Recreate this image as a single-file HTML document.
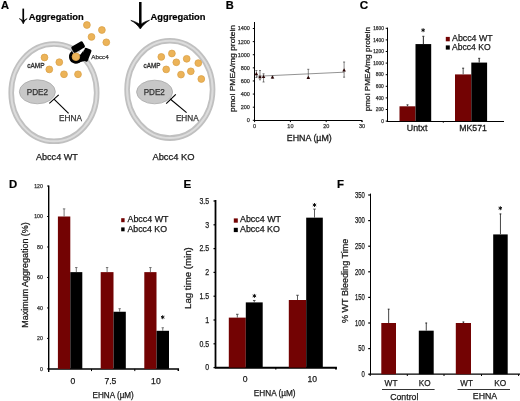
<!DOCTYPE html>
<html><head><meta charset="utf-8"><style>
html,body{margin:0;padding:0;background:#fff;}
body{width:520px;height:401px;overflow:hidden;}
svg{display:block;font-family:"Liberation Sans", sans-serif;will-change:transform;}
</style></head><body>
<svg width="520" height="401" viewBox="0 0 520 401">
<rect width="520" height="401" fill="#fff"/>
<text x="0.90" y="9.40" font-size="11.6" font-weight="bold" fill="#000" text-anchor="start" textLength="8.00" lengthAdjust="spacingAndGlyphs" stroke="#000" stroke-width="0.2">A</text>
<text x="225.80" y="9.30" font-size="11.6" font-weight="bold" fill="#000" text-anchor="start" textLength="8.00" lengthAdjust="spacingAndGlyphs" stroke="#000" stroke-width="0.2">B</text>
<text x="359.80" y="9.20" font-size="11.8" font-weight="bold" fill="#000" text-anchor="start" textLength="8.40" lengthAdjust="spacingAndGlyphs" stroke="#000" stroke-width="0.2">C</text>
<text x="8.90" y="187.60" font-size="11.8" font-weight="bold" fill="#000" text-anchor="start" textLength="8.20" lengthAdjust="spacingAndGlyphs" stroke="#000" stroke-width="0.2">D</text>
<text x="183.60" y="187.60" font-size="11.8" font-weight="bold" fill="#000" text-anchor="start" textLength="7.80" lengthAdjust="spacingAndGlyphs" stroke="#000" stroke-width="0.2">E</text>
<text x="337.10" y="187.60" font-size="11.8" font-weight="bold" fill="#000" text-anchor="start" textLength="7.00" lengthAdjust="spacingAndGlyphs" stroke="#000" stroke-width="0.2">F</text>
<ellipse cx="53.95" cy="92.65" rx="42.75" ry="48.65" fill="none" stroke="#c0c0c0" stroke-width="5.6"/>
<ellipse cx="53.95" cy="92.65" rx="42.75" ry="48.65" fill="none" stroke="#dcdcdc" stroke-width="2.0"/>
<ellipse cx="169.85" cy="89.45" rx="42.75" ry="48.65" fill="none" stroke="#c0c0c0" stroke-width="5.6"/>
<ellipse cx="169.85" cy="89.45" rx="42.75" ry="48.65" fill="none" stroke="#dcdcdc" stroke-width="2.0"/>
<line x1="23.25" y1="8.60" x2="23.25" y2="21.50" stroke="#000" stroke-width="1.7"/>
<path d="M19.3,18.6 C20.8,19.6 22.2,21.2 23.25,23.9 C24.3,21.2 25.7,19.6 27.2,18.6 C25.8,19.2 24.4,20.0 23.25,21.4 C22.1,20.0 20.7,19.2 19.3,18.6 Z" fill="#000" stroke="#000" stroke-width="0.6" stroke-linejoin="round"/>
<line x1="140.30" y1="2.00" x2="140.30" y2="25.00" stroke="#000" stroke-width="2.5"/>
<path d="M130.8,20.4 C134.5,22.2 137.6,25.0 140.3,29.0 C143.0,25.0 146.1,22.2 149.6,20.2 C146.2,21.0 143.2,22.4 140.3,24.6 C137.4,22.6 134.4,21.2 130.8,20.4 Z" fill="#000" stroke="#000" stroke-width="0.6" stroke-linejoin="round"/>
<text x="28.70" y="19.60" font-size="9.5" font-weight="bold" fill="#000" text-anchor="start" textLength="55.00" lengthAdjust="spacingAndGlyphs" stroke="#000" stroke-width="0.2">Aggregation</text>
<text x="150.50" y="19.70" font-size="9.5" font-weight="bold" fill="#000" text-anchor="start" textLength="55.00" lengthAdjust="spacingAndGlyphs" stroke="#000" stroke-width="0.2">Aggregation</text>
<circle cx="44.50" cy="57.50" r="3.40" fill="#ecb358" stroke="#d9a047" stroke-width="0.75"/>
<circle cx="59.30" cy="62.20" r="3.40" fill="#ecb358" stroke="#d9a047" stroke-width="0.75"/>
<circle cx="49.30" cy="69.40" r="3.40" fill="#ecb358" stroke="#d9a047" stroke-width="0.75"/>
<circle cx="64.00" cy="74.30" r="3.40" fill="#ecb358" stroke="#d9a047" stroke-width="0.75"/>
<circle cx="78.00" cy="74.30" r="3.40" fill="#ecb358" stroke="#d9a047" stroke-width="0.75"/>
<circle cx="86.90" cy="25.00" r="3.40" fill="#ecb358" stroke="#d9a047" stroke-width="0.75"/>
<circle cx="101.90" cy="30.00" r="3.40" fill="#ecb358" stroke="#d9a047" stroke-width="0.75"/>
<circle cx="91.50" cy="36.90" r="3.40" fill="#ecb358" stroke="#d9a047" stroke-width="0.75"/>
<circle cx="106.30" cy="42.30" r="3.40" fill="#ecb358" stroke="#d9a047" stroke-width="0.75"/>
<circle cx="161.30" cy="56.90" r="3.40" fill="#ecb358" stroke="#d9a047" stroke-width="0.75"/>
<circle cx="171.90" cy="53.50" r="3.40" fill="#ecb358" stroke="#d9a047" stroke-width="0.75"/>
<circle cx="176.30" cy="62.30" r="3.40" fill="#ecb358" stroke="#d9a047" stroke-width="0.75"/>
<circle cx="186.70" cy="58.80" r="3.40" fill="#ecb358" stroke="#d9a047" stroke-width="0.75"/>
<circle cx="198.30" cy="63.10" r="3.40" fill="#ecb358" stroke="#d9a047" stroke-width="0.75"/>
<circle cx="166.20" cy="69.40" r="3.40" fill="#ecb358" stroke="#d9a047" stroke-width="0.75"/>
<circle cx="181.00" cy="74.60" r="3.40" fill="#ecb358" stroke="#d9a047" stroke-width="0.75"/>
<circle cx="190.80" cy="71.30" r="3.40" fill="#ecb358" stroke="#d9a047" stroke-width="0.75"/>
<circle cx="201.30" cy="79.00" r="3.40" fill="#ecb358" stroke="#d9a047" stroke-width="0.75"/>
<g fill="#000"><rect x="71.6" y="43.6" width="13.0" height="7.0" rx="1.5" transform="rotate(-30 78.1 47.1)"/><rect x="82.6" y="48.3" width="7.2" height="13.0" rx="1.5" transform="rotate(21 86.2 54.8)"/><path d="M79.2,55.0 L83.4,49.4 L84.4,61.0 L79.0,62.6 Z"/></g>
<path d="M72.9,52.5 A5.2,5.2 0 1 0 81.1,56.8" fill="none" stroke="#000" stroke-width="3.4"/>
<path d="M78.6,53.6 L83.0,48.3 L84.5,48.9 L80.3,54.8 Z" fill="#fff"/>
<circle cx="75.90" cy="56.80" r="3.80" fill="#ecb358" stroke="#d9a047" stroke-width="0.8"/>
<text x="91.20" y="59.40" font-size="6.2" fill="#333" text-anchor="start" textLength="17.60" lengthAdjust="spacingAndGlyphs" stroke="#333" stroke-width="0.25">Abcc4</text>
<text x="27.30" y="68.00" font-size="7.0" fill="#333" text-anchor="start" textLength="17.30" lengthAdjust="spacingAndGlyphs" stroke="#333" stroke-width="0.35">cAMP</text>
<text x="143.50" y="67.80" font-size="7.0" fill="#333" text-anchor="start" textLength="16.90" lengthAdjust="spacingAndGlyphs" stroke="#333" stroke-width="0.35">cAMP</text>
<ellipse cx="37.35" cy="91.80" rx="18.00" ry="12.00" fill="#c8c8c8" stroke="#a8a8a8" stroke-width="0.8"/>
<ellipse cx="154.60" cy="92.00" rx="18.00" ry="11.80" fill="#c8c8c8" stroke="#a8a8a8" stroke-width="0.8"/>
<text x="26.70" y="95.00" font-size="8.4" fill="#333" text-anchor="start" textLength="21.40" lengthAdjust="spacingAndGlyphs" stroke="#333" stroke-width="0.25">PDE2</text>
<text x="143.70" y="95.40" font-size="8.4" fill="#333" text-anchor="start" textLength="21.20" lengthAdjust="spacingAndGlyphs" stroke="#333" stroke-width="0.25">PDE2</text>
<line x1="49.30" y1="103.30" x2="58.70" y2="94.90" stroke="#000" stroke-width="1.1"/>
<line x1="54.00" y1="99.10" x2="68.60" y2="113.40" stroke="#000" stroke-width="1.1"/>
<line x1="166.20" y1="103.60" x2="175.80" y2="94.40" stroke="#000" stroke-width="1.2"/>
<line x1="170.20" y1="99.00" x2="186.60" y2="112.60" stroke="#000" stroke-width="1.1"/>
<text x="59.00" y="121.00" font-size="8.2" fill="#333" text-anchor="start" textLength="22.90" lengthAdjust="spacingAndGlyphs" stroke="#333" stroke-width="0.25">EHNA</text>
<text x="175.90" y="120.70" font-size="8.2" fill="#333" text-anchor="start" textLength="22.80" lengthAdjust="spacingAndGlyphs" stroke="#333" stroke-width="0.25">EHNA</text>
<text x="35.90" y="159.80" font-size="9.0" fill="#1a1a1a" text-anchor="start" textLength="42.00" lengthAdjust="spacingAndGlyphs" stroke="#1a1a1a" stroke-width="0.25">Abcc4 WT</text>
<text x="152.40" y="160.00" font-size="9.0" fill="#1a1a1a" text-anchor="start" textLength="42.20" lengthAdjust="spacingAndGlyphs" stroke="#1a1a1a" stroke-width="0.25">Abcc4 KO</text>
<line x1="254.50" y1="22.00" x2="254.50" y2="120.80" stroke="#000" stroke-width="1.0"/>
<line x1="254.10" y1="120.50" x2="362.20" y2="120.50" stroke="#000" stroke-width="1.0"/>
<path d="M361.2,120.5 Q362.2,120.5 362.2,121.8" fill="none" stroke="#000" stroke-width="1"/>
<line x1="252.80" y1="120.30" x2="254.60" y2="120.30" stroke="#000" stroke-width="1.0"/>
<text x="249.90" y="122.20" font-size="5.5" fill="#333" text-anchor="end" stroke="#333" stroke-width="0.25">0</text>
<line x1="252.80" y1="107.19" x2="254.60" y2="107.19" stroke="#000" stroke-width="1.0"/>
<text x="249.90" y="109.09" font-size="5.5" fill="#333" text-anchor="end" stroke="#333" stroke-width="0.25">200</text>
<line x1="252.80" y1="94.07" x2="254.60" y2="94.07" stroke="#000" stroke-width="1.0"/>
<text x="249.90" y="95.97" font-size="5.5" fill="#333" text-anchor="end" stroke="#333" stroke-width="0.25">400</text>
<line x1="252.80" y1="80.96" x2="254.60" y2="80.96" stroke="#000" stroke-width="1.0"/>
<text x="249.90" y="82.86" font-size="5.5" fill="#333" text-anchor="end" stroke="#333" stroke-width="0.25">600</text>
<line x1="252.80" y1="67.84" x2="254.60" y2="67.84" stroke="#000" stroke-width="1.0"/>
<text x="249.90" y="69.74" font-size="5.5" fill="#333" text-anchor="end" stroke="#333" stroke-width="0.25">800</text>
<line x1="252.80" y1="54.73" x2="254.60" y2="54.73" stroke="#000" stroke-width="1.0"/>
<text x="249.90" y="56.63" font-size="5.5" fill="#333" text-anchor="end" stroke="#333" stroke-width="0.25">1000</text>
<line x1="252.80" y1="41.62" x2="254.60" y2="41.62" stroke="#000" stroke-width="1.0"/>
<text x="249.90" y="43.52" font-size="5.5" fill="#333" text-anchor="end" stroke="#333" stroke-width="0.25">1200</text>
<line x1="252.80" y1="28.50" x2="254.60" y2="28.50" stroke="#000" stroke-width="1.0"/>
<text x="249.90" y="30.40" font-size="5.5" fill="#333" text-anchor="end" stroke="#333" stroke-width="0.25">1400</text>
<line x1="254.60" y1="120.30" x2="254.60" y2="122.10" stroke="#000" stroke-width="1.0"/>
<text x="254.60" y="128.20" font-size="5.5" fill="#333" text-anchor="middle" stroke="#333" stroke-width="0.25">0</text>
<line x1="290.40" y1="120.30" x2="290.40" y2="122.10" stroke="#000" stroke-width="1.0"/>
<text x="290.40" y="128.20" font-size="5.5" fill="#333" text-anchor="middle" stroke="#333" stroke-width="0.25">10</text>
<line x1="326.20" y1="120.30" x2="326.20" y2="122.10" stroke="#000" stroke-width="1.0"/>
<text x="326.20" y="128.20" font-size="5.5" fill="#333" text-anchor="middle" stroke="#333" stroke-width="0.25">20</text>
<line x1="362.00" y1="120.30" x2="362.00" y2="122.10" stroke="#000" stroke-width="1.0"/>
<text x="362.00" y="128.20" font-size="5.5" fill="#333" text-anchor="middle" stroke="#333" stroke-width="0.25">30</text>
<text x="286.80" y="140.70" font-size="9.4" fill="#1a1a1a" text-anchor="start" textLength="45.00" lengthAdjust="spacingAndGlyphs" stroke="#1a1a1a" stroke-width="0.3">EHNA (µM)</text>
<text transform="translate(235.20,112.00) rotate(-90)" font-size="7.6" fill="#1a1a1a" text-anchor="start" textLength="87.00" lengthAdjust="spacingAndGlyphs" stroke="#1a1a1a" stroke-width="0.25">pmol PMEA/mg protein</text>
<line x1="256.03" y1="76.30" x2="344.10" y2="72.20" stroke="#777" stroke-width="0.8"/>
<line x1="256.39" y1="70.50" x2="256.39" y2="77.50" stroke="#555" stroke-width="0.7"/>
<line x1="255.39" y1="70.50" x2="257.39" y2="70.50" stroke="#444" stroke-width="0.7"/>
<line x1="255.39" y1="77.50" x2="257.39" y2="77.50" stroke="#444" stroke-width="0.7"/>
<path d="M254.59,75.20 L256.39,72.10 L258.19,75.20 Z" fill="#2a0505"/>
<line x1="259.97" y1="70.50" x2="259.97" y2="79.80" stroke="#555" stroke-width="0.7"/>
<line x1="258.97" y1="70.50" x2="260.97" y2="70.50" stroke="#444" stroke-width="0.7"/>
<line x1="258.97" y1="79.80" x2="260.97" y2="79.80" stroke="#444" stroke-width="0.7"/>
<path d="M258.17,78.20 L259.97,75.10 L261.77,78.20 Z" fill="#2a0505"/>
<line x1="263.55" y1="73.80" x2="263.55" y2="82.00" stroke="#555" stroke-width="0.7"/>
<line x1="262.55" y1="73.80" x2="264.55" y2="73.80" stroke="#444" stroke-width="0.7"/>
<line x1="262.55" y1="82.00" x2="264.55" y2="82.00" stroke="#444" stroke-width="0.7"/>
<path d="M261.75,78.00 L263.55,74.90 L265.35,78.00 Z" fill="#2a0505"/>
<line x1="272.50" y1="76.00" x2="272.50" y2="78.20" stroke="#555" stroke-width="0.7"/>
<line x1="271.50" y1="76.00" x2="273.50" y2="76.00" stroke="#444" stroke-width="0.7"/>
<line x1="271.50" y1="78.20" x2="273.50" y2="78.20" stroke="#444" stroke-width="0.7"/>
<path d="M270.70,78.60 L272.50,75.50 L274.30,78.60 Z" fill="#2a0505"/>
<line x1="308.30" y1="69.30" x2="308.30" y2="77.50" stroke="#555" stroke-width="0.7"/>
<line x1="307.30" y1="69.30" x2="309.30" y2="69.30" stroke="#444" stroke-width="0.7"/>
<line x1="307.30" y1="77.50" x2="309.30" y2="77.50" stroke="#444" stroke-width="0.7"/>
<path d="M306.50,78.90 L308.30,75.80 L310.10,78.90 Z" fill="#2a0505"/>
<line x1="344.10" y1="62.00" x2="344.10" y2="77.20" stroke="#555" stroke-width="0.7"/>
<line x1="343.10" y1="62.00" x2="345.10" y2="62.00" stroke="#444" stroke-width="0.7"/>
<line x1="343.10" y1="77.20" x2="345.10" y2="77.20" stroke="#444" stroke-width="0.7"/>
<path d="M342.30,71.40 L344.10,68.30 L345.90,71.40 Z" fill="#2a0505"/>
<line x1="387.50" y1="27.60" x2="387.50" y2="121.60" stroke="#000" stroke-width="1.0"/>
<line x1="386.80" y1="121.50" x2="504.00" y2="121.50" stroke="#000" stroke-width="1.0"/>
<line x1="443.30" y1="121.10" x2="443.30" y2="122.70" stroke="#000" stroke-width="1.0"/>
<line x1="385.70" y1="121.10" x2="387.30" y2="121.10" stroke="#000" stroke-width="1.0"/>
<text x="383.80" y="122.80" font-size="4.8" fill="#333" text-anchor="end" stroke="#333" stroke-width="0.25">0</text>
<line x1="385.70" y1="109.50" x2="387.30" y2="109.50" stroke="#000" stroke-width="1.0"/>
<text x="383.80" y="111.20" font-size="4.8" fill="#333" text-anchor="end" stroke="#333" stroke-width="0.25">200</text>
<line x1="385.70" y1="97.90" x2="387.30" y2="97.90" stroke="#000" stroke-width="1.0"/>
<text x="383.80" y="99.60" font-size="4.8" fill="#333" text-anchor="end" stroke="#333" stroke-width="0.25">400</text>
<line x1="385.70" y1="86.30" x2="387.30" y2="86.30" stroke="#000" stroke-width="1.0"/>
<text x="383.80" y="88.00" font-size="4.8" fill="#333" text-anchor="end" stroke="#333" stroke-width="0.25">600</text>
<line x1="385.70" y1="74.70" x2="387.30" y2="74.70" stroke="#000" stroke-width="1.0"/>
<text x="383.80" y="76.40" font-size="4.8" fill="#333" text-anchor="end" stroke="#333" stroke-width="0.25">800</text>
<line x1="385.70" y1="63.10" x2="387.30" y2="63.10" stroke="#000" stroke-width="1.0"/>
<text x="383.80" y="64.80" font-size="4.8" fill="#333" text-anchor="end" stroke="#333" stroke-width="0.25">1000</text>
<line x1="385.70" y1="51.50" x2="387.30" y2="51.50" stroke="#000" stroke-width="1.0"/>
<text x="383.80" y="53.20" font-size="4.8" fill="#333" text-anchor="end" stroke="#333" stroke-width="0.25">1200</text>
<line x1="385.70" y1="39.90" x2="387.30" y2="39.90" stroke="#000" stroke-width="1.0"/>
<text x="383.80" y="41.60" font-size="4.8" fill="#333" text-anchor="end" stroke="#333" stroke-width="0.25">1400</text>
<line x1="385.70" y1="28.30" x2="387.30" y2="28.30" stroke="#000" stroke-width="1.0"/>
<text x="383.80" y="30.00" font-size="4.8" fill="#333" text-anchor="end" stroke="#333" stroke-width="0.25">1600</text>
<text transform="translate(369.60,111.30) rotate(-90)" font-size="6.8" fill="#1a1a1a" text-anchor="start" textLength="84.30" lengthAdjust="spacingAndGlyphs" stroke="#1a1a1a" stroke-width="0.25">pmol PMEA/mg protein</text>
<rect x="399.50" y="106.31" width="16.00" height="14.79" fill="#730303"/>
<line x1="407.50" y1="104.86" x2="407.50" y2="106.31" stroke="#555" stroke-width="1.0"/>
<line x1="406.50" y1="104.86" x2="408.50" y2="104.86" stroke="#333" stroke-width="1.0"/>
<rect x="415.50" y="44.08" width="15.70" height="77.02" fill="#000"/>
<line x1="423.35" y1="36.30" x2="423.35" y2="44.08" stroke="#222" stroke-width="1.0"/>
<line x1="422.35" y1="36.30" x2="424.35" y2="36.30" stroke="#333" stroke-width="1.0"/>
<rect x="455.00" y="74.41" width="16.30" height="46.69" fill="#730303"/>
<line x1="463.15" y1="68.20" x2="463.15" y2="74.41" stroke="#555" stroke-width="1.0"/>
<line x1="462.15" y1="68.20" x2="464.15" y2="68.20" stroke="#333" stroke-width="1.0"/>
<rect x="471.30" y="62.58" width="15.80" height="58.52" fill="#000"/>
<line x1="479.20" y1="58.34" x2="479.20" y2="62.58" stroke="#222" stroke-width="1.0"/>
<line x1="478.20" y1="58.34" x2="480.20" y2="58.34" stroke="#333" stroke-width="1.0"/>
<path d="M423.10,28.60L423.10,31.80M421.71,29.40L424.49,31.00M424.49,29.40L421.71,31.00" stroke="#000" stroke-width="0.9" stroke-linecap="round"/>
<rect x="445.80" y="36.90" width="4.00" height="4.40" fill="#730303"/>
<rect x="445.80" y="45.40" width="4.00" height="4.20" fill="#000"/>
<text x="452.00" y="41.00" font-size="8.8" fill="#1a1a1a" text-anchor="start" textLength="40.70" lengthAdjust="spacingAndGlyphs" stroke="#1a1a1a" stroke-width="0.25">Abcc4 WT</text>
<text x="452.00" y="50.20" font-size="8.8" fill="#1a1a1a" text-anchor="start" textLength="38.60" lengthAdjust="spacingAndGlyphs" stroke="#1a1a1a" stroke-width="0.25">Abcc4 KO</text>
<text x="406.80" y="130.70" font-size="9.2" fill="#1a1a1a" text-anchor="start" textLength="20.60" lengthAdjust="spacingAndGlyphs" stroke="#1a1a1a" stroke-width="0.3">Untxt</text>
<text x="459.20" y="130.70" font-size="9.2" fill="#1a1a1a" text-anchor="start" textLength="27.70" lengthAdjust="spacingAndGlyphs" stroke="#1a1a1a" stroke-width="0.3">MK571</text>
<line x1="48.70" y1="185.60" x2="48.70" y2="368.90" stroke="#000" stroke-width="1.4"/>
<path d="M48.10,368.90 L178.3,368.90 L178.3,371.10" fill="none" stroke="#000" stroke-width="1.5"/>
<line x1="48.70" y1="368.90" x2="48.70" y2="372.10" stroke="#000" stroke-width="1.4"/>
<line x1="91.50" y1="368.90" x2="91.50" y2="371.10" stroke="#000" stroke-width="1.0"/>
<line x1="134.80" y1="368.90" x2="134.80" y2="371.10" stroke="#000" stroke-width="1.0"/>
<line x1="47.10" y1="368.90" x2="48.70" y2="368.90" stroke="#000" stroke-width="1.0"/>
<text x="42.80" y="370.70" font-size="5.2" fill="#333" text-anchor="end" stroke="#333" stroke-width="0.25">0</text>
<line x1="47.10" y1="338.42" x2="48.70" y2="338.42" stroke="#000" stroke-width="1.0"/>
<text x="42.80" y="340.22" font-size="5.2" fill="#333" text-anchor="end" stroke="#333" stroke-width="0.25">20</text>
<line x1="47.10" y1="307.94" x2="48.70" y2="307.94" stroke="#000" stroke-width="1.0"/>
<text x="42.80" y="309.74" font-size="5.2" fill="#333" text-anchor="end" stroke="#333" stroke-width="0.25">40</text>
<line x1="47.10" y1="277.46" x2="48.70" y2="277.46" stroke="#000" stroke-width="1.0"/>
<text x="42.80" y="279.26" font-size="5.2" fill="#333" text-anchor="end" stroke="#333" stroke-width="0.25">60</text>
<line x1="47.10" y1="246.98" x2="48.70" y2="246.98" stroke="#000" stroke-width="1.0"/>
<text x="42.80" y="248.78" font-size="5.2" fill="#333" text-anchor="end" stroke="#333" stroke-width="0.25">80</text>
<line x1="47.10" y1="216.50" x2="48.70" y2="216.50" stroke="#000" stroke-width="1.0"/>
<text x="42.80" y="218.30" font-size="5.2" fill="#333" text-anchor="end" stroke="#333" stroke-width="0.25">100</text>
<line x1="47.10" y1="186.02" x2="48.70" y2="186.02" stroke="#000" stroke-width="1.0"/>
<text x="42.80" y="187.82" font-size="5.2" fill="#333" text-anchor="end" stroke="#333" stroke-width="0.25">120</text>
<text transform="translate(28.30,327.70) rotate(-90)" font-size="8.6" fill="#1a1a1a" text-anchor="start" textLength="105.50" lengthAdjust="spacingAndGlyphs" stroke="#1a1a1a" stroke-width="0.25">Maximum Aggregation (%)</text>
<rect x="57.90" y="216.50" width="12.40" height="152.40" fill="#730303"/>
<line x1="64.10" y1="208.88" x2="64.10" y2="216.50" stroke="#555" stroke-width="0.8"/>
<line x1="62.90" y1="208.88" x2="65.30" y2="208.88" stroke="#555" stroke-width="0.8"/>
<rect x="70.30" y="272.13" width="12.00" height="96.77" fill="#000"/>
<line x1="76.30" y1="267.55" x2="76.30" y2="272.13" stroke="#555" stroke-width="0.8"/>
<line x1="75.10" y1="267.55" x2="77.50" y2="267.55" stroke="#555" stroke-width="0.8"/>
<rect x="100.70" y="272.13" width="12.80" height="96.77" fill="#730303"/>
<line x1="107.10" y1="267.55" x2="107.10" y2="272.13" stroke="#555" stroke-width="0.8"/>
<line x1="105.90" y1="267.55" x2="108.30" y2="267.55" stroke="#555" stroke-width="0.8"/>
<rect x="113.50" y="311.75" width="12.30" height="57.15" fill="#000"/>
<line x1="119.65" y1="308.70" x2="119.65" y2="311.75" stroke="#555" stroke-width="0.8"/>
<line x1="118.45" y1="308.70" x2="120.85" y2="308.70" stroke="#555" stroke-width="0.8"/>
<rect x="144.30" y="272.13" width="12.20" height="96.77" fill="#730303"/>
<line x1="150.40" y1="267.55" x2="150.40" y2="272.13" stroke="#555" stroke-width="0.8"/>
<line x1="149.20" y1="267.55" x2="151.60" y2="267.55" stroke="#555" stroke-width="0.8"/>
<rect x="156.50" y="330.80" width="12.50" height="38.10" fill="#000"/>
<line x1="162.75" y1="327.75" x2="162.75" y2="330.80" stroke="#555" stroke-width="0.8"/>
<line x1="161.55" y1="327.75" x2="163.95" y2="327.75" stroke="#555" stroke-width="0.8"/>
<path d="M162.70,315.60L162.70,318.80M161.31,316.40L164.09,318.00M164.09,316.40L161.31,318.00" stroke="#000" stroke-width="0.9" stroke-linecap="round"/>
<rect x="121.20" y="218.20" width="3.40" height="4.00" fill="#730303"/>
<rect x="121.20" y="227.40" width="3.40" height="3.90" fill="#000"/>
<text x="127.50" y="222.00" font-size="8.2" fill="#1a1a1a" text-anchor="start" textLength="41.00" lengthAdjust="spacingAndGlyphs" stroke="#1a1a1a" stroke-width="0.25">Abcc4 WT</text>
<text x="127.50" y="231.50" font-size="8.2" fill="#1a1a1a" text-anchor="start" textLength="39.50" lengthAdjust="spacingAndGlyphs" stroke="#1a1a1a" stroke-width="0.25">Abcc4 KO</text>
<text x="73.00" y="384.20" font-size="8.6" fill="#1a1a1a" text-anchor="middle" stroke="#1a1a1a" stroke-width="0.25">0</text>
<text x="110.40" y="384.20" font-size="8.6" fill="#1a1a1a" text-anchor="middle" stroke="#1a1a1a" stroke-width="0.25">7.5</text>
<text x="155.90" y="384.20" font-size="8.6" fill="#1a1a1a" text-anchor="middle" stroke="#1a1a1a" stroke-width="0.25">10</text>
<text x="92.60" y="398.00" font-size="8.4" fill="#1a1a1a" text-anchor="start" textLength="41.20" lengthAdjust="spacingAndGlyphs" stroke="#1a1a1a" stroke-width="0.25">EHNA (µM)</text>
<line x1="215.50" y1="200.00" x2="215.50" y2="367.60" stroke="#000" stroke-width="1.8"/>
<path d="M214.80,367.80 L336.0,367.80 L336.0,369.60" fill="none" stroke="#000" stroke-width="1.9"/>
<line x1="275.80" y1="367.60" x2="275.80" y2="369.60" stroke="#000" stroke-width="1.2"/>
<line x1="213.50" y1="367.60" x2="215.50" y2="367.60" stroke="#000" stroke-width="1.2"/>
<text x="209.10" y="370.45" font-size="8.3" fill="#1a1a1a" text-anchor="end" textLength="3.88" lengthAdjust="spacingAndGlyphs" stroke="#1a1a1a" stroke-width="0.25">0</text>
<line x1="213.50" y1="343.80" x2="215.50" y2="343.80" stroke="#000" stroke-width="1.2"/>
<text x="209.10" y="346.65" font-size="8.3" fill="#1a1a1a" text-anchor="end" textLength="9.69" lengthAdjust="spacingAndGlyphs" stroke="#1a1a1a" stroke-width="0.25">0.5</text>
<line x1="213.50" y1="320.00" x2="215.50" y2="320.00" stroke="#000" stroke-width="1.2"/>
<text x="209.10" y="322.85" font-size="8.3" fill="#1a1a1a" text-anchor="end" textLength="3.88" lengthAdjust="spacingAndGlyphs" stroke="#1a1a1a" stroke-width="0.25">1</text>
<line x1="213.50" y1="296.20" x2="215.50" y2="296.20" stroke="#000" stroke-width="1.2"/>
<text x="209.10" y="299.05" font-size="8.3" fill="#1a1a1a" text-anchor="end" textLength="9.69" lengthAdjust="spacingAndGlyphs" stroke="#1a1a1a" stroke-width="0.25">1.5</text>
<line x1="213.50" y1="272.40" x2="215.50" y2="272.40" stroke="#000" stroke-width="1.2"/>
<text x="209.10" y="275.25" font-size="8.3" fill="#1a1a1a" text-anchor="end" textLength="3.88" lengthAdjust="spacingAndGlyphs" stroke="#1a1a1a" stroke-width="0.25">2</text>
<line x1="213.50" y1="248.60" x2="215.50" y2="248.60" stroke="#000" stroke-width="1.2"/>
<text x="209.10" y="251.45" font-size="8.3" fill="#1a1a1a" text-anchor="end" textLength="9.69" lengthAdjust="spacingAndGlyphs" stroke="#1a1a1a" stroke-width="0.25">2.5</text>
<line x1="213.50" y1="224.80" x2="215.50" y2="224.80" stroke="#000" stroke-width="1.2"/>
<text x="209.10" y="227.65" font-size="8.3" fill="#1a1a1a" text-anchor="end" textLength="3.88" lengthAdjust="spacingAndGlyphs" stroke="#1a1a1a" stroke-width="0.25">3</text>
<line x1="213.50" y1="201.00" x2="215.50" y2="201.00" stroke="#000" stroke-width="1.2"/>
<text x="209.10" y="203.85" font-size="8.3" fill="#1a1a1a" text-anchor="end" textLength="9.69" lengthAdjust="spacingAndGlyphs" stroke="#1a1a1a" stroke-width="0.25">3.5</text>
<text transform="translate(190.90,309.00) rotate(-90)" font-size="8.4" fill="#1a1a1a" text-anchor="start" textLength="61.80" lengthAdjust="spacingAndGlyphs" stroke="#1a1a1a" stroke-width="0.25">Lag time (min)</text>
<rect x="228.80" y="317.62" width="17.00" height="49.98" fill="#730303"/>
<line x1="237.30" y1="314.29" x2="237.30" y2="317.62" stroke="#333" stroke-width="0.8"/>
<line x1="236.00" y1="314.29" x2="238.60" y2="314.29" stroke="#333" stroke-width="0.8"/>
<rect x="245.80" y="302.39" width="16.90" height="65.21" fill="#000"/>
<line x1="254.25" y1="300.48" x2="254.25" y2="302.39" stroke="#333" stroke-width="0.8"/>
<line x1="252.95" y1="300.48" x2="255.55" y2="300.48" stroke="#333" stroke-width="0.8"/>
<rect x="288.80" y="300.01" width="17.40" height="67.59" fill="#730303"/>
<line x1="297.50" y1="295.25" x2="297.50" y2="300.01" stroke="#333" stroke-width="0.8"/>
<line x1="296.20" y1="295.25" x2="298.80" y2="295.25" stroke="#333" stroke-width="0.8"/>
<rect x="306.20" y="217.66" width="16.60" height="149.94" fill="#000"/>
<line x1="314.50" y1="209.09" x2="314.50" y2="217.66" stroke="#333" stroke-width="0.8"/>
<line x1="313.20" y1="209.09" x2="315.80" y2="209.09" stroke="#333" stroke-width="0.8"/>
<path d="M254.40,294.30L254.40,297.50M253.01,295.10L255.79,296.70M255.79,295.10L253.01,296.70" stroke="#000" stroke-width="0.9" stroke-linecap="round"/>
<path d="M314.50,203.40L314.50,206.60M313.11,204.20L315.89,205.80M315.89,204.20L313.11,205.80" stroke="#000" stroke-width="0.9" stroke-linecap="round"/>
<rect x="233.80" y="218.40" width="4.00" height="4.30" fill="#730303"/>
<rect x="233.80" y="227.80" width="4.00" height="4.30" fill="#000"/>
<text x="240.00" y="222.00" font-size="8.2" fill="#1a1a1a" text-anchor="start" textLength="41.00" lengthAdjust="spacingAndGlyphs" stroke="#1a1a1a" stroke-width="0.25">Abcc4 WT</text>
<text x="240.00" y="232.00" font-size="8.2" fill="#1a1a1a" text-anchor="start" textLength="39.80" lengthAdjust="spacingAndGlyphs" stroke="#1a1a1a" stroke-width="0.25">Abcc4 KO</text>
<text x="245.20" y="382.30" font-size="8.6" fill="#1a1a1a" text-anchor="middle" stroke="#1a1a1a" stroke-width="0.25">0</text>
<text x="312.30" y="382.30" font-size="8.6" fill="#1a1a1a" text-anchor="middle" stroke="#1a1a1a" stroke-width="0.25">10</text>
<text x="253.80" y="395.80" font-size="8.8" fill="#1a1a1a" text-anchor="start" textLength="41.80" lengthAdjust="spacingAndGlyphs" stroke="#1a1a1a" stroke-width="0.25">EHNA (µM)</text>
<line x1="370.50" y1="193.60" x2="370.50" y2="374.20" stroke="#000" stroke-width="1.0"/>
<line x1="369.60" y1="374.20" x2="520.00" y2="374.20" stroke="#000" stroke-width="1.3"/>
<line x1="370.20" y1="374.20" x2="370.20" y2="376.00" stroke="#000" stroke-width="1.0"/>
<line x1="407.30" y1="374.20" x2="407.30" y2="376.00" stroke="#000" stroke-width="1.0"/>
<line x1="444.00" y1="374.20" x2="444.00" y2="376.00" stroke="#000" stroke-width="1.0"/>
<line x1="481.50" y1="374.20" x2="481.50" y2="376.00" stroke="#000" stroke-width="1.0"/>
<line x1="518.60" y1="374.20" x2="518.60" y2="376.00" stroke="#000" stroke-width="1.0"/>
<line x1="368.20" y1="374.20" x2="370.20" y2="374.20" stroke="#000" stroke-width="1.2"/>
<text x="364.90" y="377.05" font-size="8.3" fill="#1a1a1a" text-anchor="end" textLength="3.28" lengthAdjust="spacingAndGlyphs" stroke="#1a1a1a" stroke-width="0.25">0</text>
<line x1="368.20" y1="348.60" x2="370.20" y2="348.60" stroke="#000" stroke-width="1.2"/>
<text x="364.90" y="351.45" font-size="8.3" fill="#1a1a1a" text-anchor="end" textLength="6.55" lengthAdjust="spacingAndGlyphs" stroke="#1a1a1a" stroke-width="0.25">50</text>
<line x1="368.20" y1="323.00" x2="370.20" y2="323.00" stroke="#000" stroke-width="1.2"/>
<text x="364.90" y="325.85" font-size="8.3" fill="#1a1a1a" text-anchor="end" textLength="9.83" lengthAdjust="spacingAndGlyphs" stroke="#1a1a1a" stroke-width="0.25">100</text>
<line x1="368.20" y1="297.40" x2="370.20" y2="297.40" stroke="#000" stroke-width="1.2"/>
<text x="364.90" y="300.25" font-size="8.3" fill="#1a1a1a" text-anchor="end" textLength="9.83" lengthAdjust="spacingAndGlyphs" stroke="#1a1a1a" stroke-width="0.25">150</text>
<line x1="368.20" y1="271.80" x2="370.20" y2="271.80" stroke="#000" stroke-width="1.2"/>
<text x="364.90" y="274.65" font-size="8.3" fill="#1a1a1a" text-anchor="end" textLength="9.83" lengthAdjust="spacingAndGlyphs" stroke="#1a1a1a" stroke-width="0.25">200</text>
<line x1="368.20" y1="246.20" x2="370.20" y2="246.20" stroke="#000" stroke-width="1.2"/>
<text x="364.90" y="249.05" font-size="8.3" fill="#1a1a1a" text-anchor="end" textLength="9.83" lengthAdjust="spacingAndGlyphs" stroke="#1a1a1a" stroke-width="0.25">250</text>
<line x1="368.20" y1="220.60" x2="370.20" y2="220.60" stroke="#000" stroke-width="1.2"/>
<text x="364.90" y="223.45" font-size="8.3" fill="#1a1a1a" text-anchor="end" textLength="9.83" lengthAdjust="spacingAndGlyphs" stroke="#1a1a1a" stroke-width="0.25">300</text>
<line x1="368.20" y1="195.00" x2="370.20" y2="195.00" stroke="#000" stroke-width="1.2"/>
<text x="364.90" y="197.85" font-size="8.3" fill="#1a1a1a" text-anchor="end" textLength="9.83" lengthAdjust="spacingAndGlyphs" stroke="#1a1a1a" stroke-width="0.25">350</text>
<text transform="translate(348.10,323.00) rotate(-90)" font-size="8.8" fill="#1a1a1a" text-anchor="start" textLength="84.30" lengthAdjust="spacingAndGlyphs" stroke="#1a1a1a" stroke-width="0.25">% WT Bleeding Time</text>
<rect x="381.30" y="323.00" width="14.70" height="51.20" fill="#730303"/>
<line x1="388.65" y1="309.18" x2="388.65" y2="323.00" stroke="#444" stroke-width="1.0"/>
<line x1="387.75" y1="309.18" x2="389.55" y2="309.18" stroke="#222" stroke-width="1.0"/>
<rect x="418.80" y="330.68" width="14.90" height="43.52" fill="#000"/>
<line x1="426.25" y1="323.00" x2="426.25" y2="330.68" stroke="#444" stroke-width="1.0"/>
<line x1="425.35" y1="323.00" x2="427.15" y2="323.00" stroke="#222" stroke-width="1.0"/>
<rect x="455.80" y="323.00" width="15.20" height="51.20" fill="#730303"/>
<line x1="463.40" y1="321.98" x2="463.40" y2="323.00" stroke="#444" stroke-width="1.0"/>
<line x1="462.50" y1="321.98" x2="464.30" y2="321.98" stroke="#222" stroke-width="1.0"/>
<rect x="493.20" y="234.42" width="14.50" height="139.78" fill="#000"/>
<line x1="500.45" y1="213.94" x2="500.45" y2="234.42" stroke="#444" stroke-width="1.0"/>
<line x1="499.55" y1="213.94" x2="501.35" y2="213.94" stroke="#222" stroke-width="1.0"/>
<path d="M500.30,206.60L500.30,209.80M498.91,207.40L501.69,209.00M501.69,207.40L498.91,209.00" stroke="#000" stroke-width="0.9" stroke-linecap="round"/>
<text x="384.60" y="385.90" font-size="8.8" fill="#1a1a1a" text-anchor="start" textLength="12.90" lengthAdjust="spacingAndGlyphs" stroke="#1a1a1a" stroke-width="0.25">WT</text>
<text x="418.80" y="385.90" font-size="8.8" fill="#1a1a1a" text-anchor="start" textLength="11.80" lengthAdjust="spacingAndGlyphs" stroke="#1a1a1a" stroke-width="0.25">KO</text>
<text x="460.30" y="385.90" font-size="8.8" fill="#1a1a1a" text-anchor="start" textLength="12.50" lengthAdjust="spacingAndGlyphs" stroke="#1a1a1a" stroke-width="0.25">WT</text>
<text x="494.20" y="385.90" font-size="8.8" fill="#1a1a1a" text-anchor="start" textLength="12.00" lengthAdjust="spacingAndGlyphs" stroke="#1a1a1a" stroke-width="0.25">KO</text>
<line x1="382.00" y1="389.50" x2="434.60" y2="389.50" stroke="#000" stroke-width="0.8"/>
<line x1="457.50" y1="389.50" x2="510.00" y2="389.50" stroke="#000" stroke-width="0.8"/>
<text x="390.20" y="400.00" font-size="8.6" fill="#1a1a1a" text-anchor="start" textLength="28.20" lengthAdjust="spacingAndGlyphs" stroke="#1a1a1a" stroke-width="0.25">Control</text>
<text x="472.80" y="399.40" font-size="8.4" fill="#1a1a1a" text-anchor="start" textLength="24.40" lengthAdjust="spacingAndGlyphs" stroke="#1a1a1a" stroke-width="0.25">EHNA</text>
</svg>
</body></html>
